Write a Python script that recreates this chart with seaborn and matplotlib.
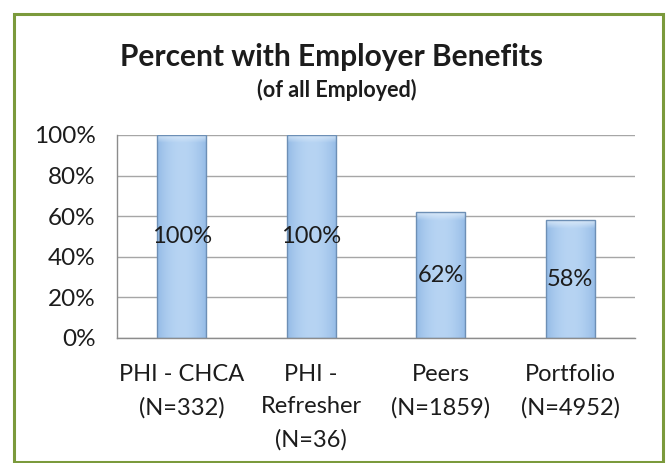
import matplotlib
matplotlib.use("Agg")
import matplotlib.pyplot as plt
import seaborn as sns
import pandas as pd
import numpy as np
from matplotlib.patches import Rectangle
from matplotlib.ticker import FixedLocator
from matplotlib.colors import to_rgb

# Chart data
groups = ["PHI - CHCA\n(N=332)", "PHI -\nRefresher\n(N=36)", "Peers\n(N=1859)", "Portfolio\n(N=4952)"]
percent_with_benefits = [100, 100, 62, 58]
y_ticks = [0, 20, 40, 60, 80, 100]
y_tick_labels = ["0%", "20%", "40%", "60%", "80%", "100%"]
title = "Percent with Employer Benefits"
subtitle = "(of all Employed)"

sns.set_theme(style="white")
plt.rcParams["font.family"] = ["Lato", "DejaVu Sans"]

text_color = "#1c1c1c"
bar_fill = "#a9cbef"
bar_edge = "#6d8fb5"
grid_color = "#a6a6a6"
frame_green = "#7b9a3c"

df = pd.DataFrame({"group": groups, "pct": percent_with_benefits})

fig = plt.figure(figsize=(6.68, 4.63), dpi=100)
fig.patch.set_facecolor("white")

# Olive chart-area border
fig.add_artist(Rectangle((14 / 668, 1 - 462 / 463), (663 - 14) / 668, (462 - 14) / 463,
                         transform=fig.transFigure, fill=False,
                         edgecolor=frame_green, linewidth=2.2))

ax = fig.add_axes([117 / 668, 1 - 338 / 463, (635 - 117) / 668, (338 - 135) / 463])
sns.barplot(data=df, x="group", y="pct", ax=ax, color=bar_fill, width=0.38,
            edgecolor=bar_edge, linewidth=1.0, saturation=1)

ax.set_ylim(0, 100)
ax.set_xlim(-0.5, len(groups) - 0.5)

# Soft glossy shading inside each bar: lighter centre, slightly darker sides, pale top
c_side = np.array(to_rgb("#94bbe6"))
c_mid = np.array(to_rgb("#b7d4f3"))
c_top = np.array(to_rgb("#e2eefa"))
nx, ny = 60, 200
xs = np.linspace(-1, 1, nx)
across = (1 - xs ** 2)[None, :, None]
for patch in list(ax.patches):
    x0, y0 = patch.get_x(), patch.get_y()
    w, h = patch.get_width(), patch.get_height()
    ys = np.linspace(0, 1, ny)[:, None, None]
    base = c_side + (c_mid - c_side) * across
    top_weight = np.clip((ys - 1 + 4.0 / h) / (4.0 / h), 0, 1) * 0.8
    img = base * (1 - top_weight) + c_top * top_weight
    im = ax.imshow(img, extent=(x0, x0 + w, y0, y0 + h), origin="lower",
                   aspect="auto", zorder=patch.get_zorder(), interpolation="bilinear")
    im.set_clip_path(patch)
    patch.set_facecolor("none")
    patch.set_zorder(patch.get_zorder() + 0.1)

ax.set_xlim(-0.5, len(groups) - 0.5)
ax.set_ylim(0, 100)
ax.set_yticks(y_ticks)
ax.set_yticklabels(y_tick_labels, fontsize=17.5, color=text_color)
ax.set_xlabel("")
ax.set_ylabel("")

# Horizontal gridlines behind bars
ax.set_axisbelow(True)
ax.yaxis.grid(True, color=grid_color, linewidth=1.0)
ax.xaxis.grid(False)

for side in ["top", "right"]:
    ax.spines[side].set_visible(False)
ax.spines["left"].set_color("#8c8c8c")
ax.spines["bottom"].set_color("#8c8c8c")
ax.spines["left"].set_linewidth(1.0)
ax.spines["bottom"].set_linewidth(1.0)

# Category labels centred; tick marks between categories
ax.set_xticks(range(len(groups)))
ax.set_xticklabels(groups, fontsize=17, color=text_color, linespacing=1.68, va="top")
ax.tick_params(axis="x", which="major", length=0, pad=18.5)
ax.xaxis.set_minor_locator(FixedLocator([i - 0.5 for i in range(len(groups) + 1)]))
ax.tick_params(axis="x", which="minor", length=5, width=1, color="#8c8c8c", direction="out")
ax.tick_params(axis="y", which="major", length=5, width=1, color="#8c8c8c", direction="out", pad=10.5)

# Value labels in the middle of each bar
for i, v in enumerate(percent_with_benefits):
    ax.text(i, v / 2, f"{v}%", ha="center", va="center", fontsize=17,
            color=text_color, zorder=5)

fig.text(0.5 - 2 / 668, 1 - 57 / 463, title, ha="center", va="center", fontsize=21.5,
         fontweight="bold", color=text_color)
fig.text(0.5 + 3 / 668, 1 - 90 / 463, subtitle, ha="center", va="center", fontsize=15.5,
         fontweight="bold", color=text_color)

fig.savefig("out.png", dpi=100, facecolor="white")
